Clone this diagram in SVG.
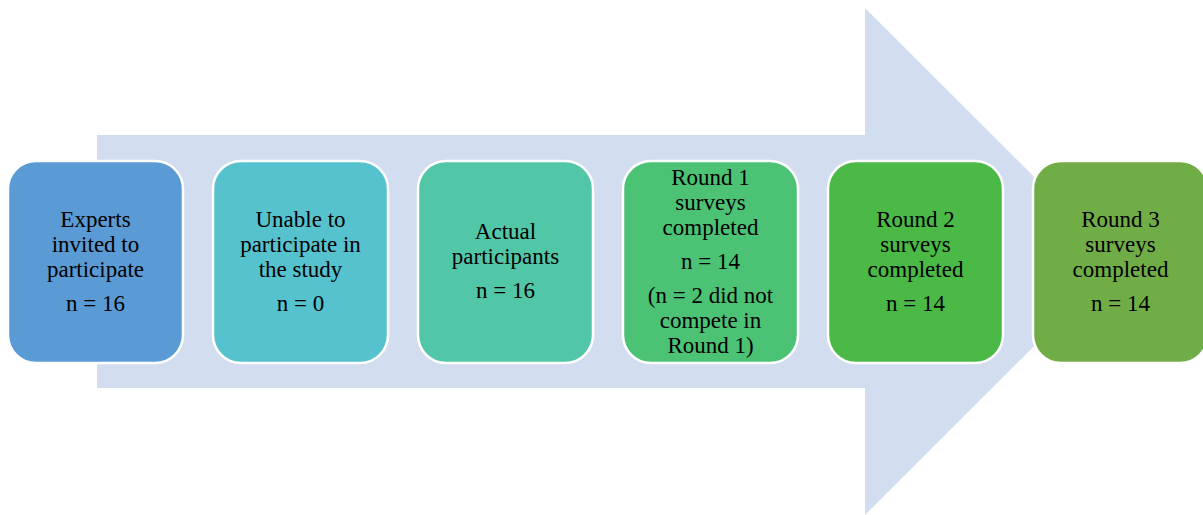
<svg xmlns="http://www.w3.org/2000/svg" width="1203" height="515" viewBox="0 0 1203 515">
  <style>
    .box { stroke: #ffffff; stroke-width: 2.5; }
    .lbl { font-family: "Liberation Serif", "Times New Roman", serif; font-size: 23px; fill: #000000; text-anchor: middle; }
  </style>
  <rect width="1203" height="515" fill="#ffffff"/>
  <!-- background process arrow -->
  <g id="connectors">
    <polygon points="97,135 865,135 865,8 1119,261.5 865,515 865,388 97,388" fill="#D2DEEF"/>
  </g>
  <g id="node1">
    <rect class="box" x="8" y="161" width="175" height="202" rx="28" fill="#5B9BD5"/>
    <text class="lbl" x="95.5" y="227">Experts</text>
    <text class="lbl" x="95.5" y="252">invited to</text>
    <text class="lbl" x="95.5" y="277">participate</text>
    <text class="lbl" x="95.5" y="311">n = 16</text>
  </g>
  <g id="node2">
    <rect class="box" x="213" y="161" width="175" height="202" rx="28" fill="#56C2CE"/>
    <text class="lbl" x="300.5" y="227">Unable to</text>
    <text class="lbl" x="300.5" y="252">participate in</text>
    <text class="lbl" x="300.5" y="277">the study</text>
    <text class="lbl" x="300.5" y="311">n = 0</text>
  </g>
  <g id="node3">
    <rect class="box" x="418" y="161" width="175" height="202" rx="28" fill="#52C7A8"/>
    <text class="lbl" x="505.5" y="239">Actual</text>
    <text class="lbl" x="505.5" y="264">participants</text>
    <text class="lbl" x="505.5" y="298">n = 16</text>
  </g>
  <g id="node4">
    <rect class="box" x="623" y="161" width="175" height="202" rx="28" fill="#4CC374"/>
    <text class="lbl" x="710.5" y="185">Round 1</text>
    <text class="lbl" x="710.5" y="210">surveys</text>
    <text class="lbl" x="710.5" y="235">completed</text>
    <text class="lbl" x="710.5" y="269">n = 14</text>
    <text class="lbl" x="710.5" y="303">(n = 2 did not</text>
    <text class="lbl" x="710.5" y="328">compete in</text>
    <text class="lbl" x="710.5" y="353">Round 1)</text>
  </g>
  <g id="node5">
    <rect class="box" x="828" y="161" width="175" height="202" rx="28" fill="#4BB946"/>
    <text class="lbl" x="915.5" y="227">Round 2</text>
    <text class="lbl" x="915.5" y="252">surveys</text>
    <text class="lbl" x="915.5" y="277">completed</text>
    <text class="lbl" x="915.5" y="311">n = 14</text>
  </g>
  <g id="node6">
    <rect class="box" x="1033" y="161" width="175" height="202" rx="28" fill="#70AD47"/>
    <text class="lbl" x="1120.5" y="227">Round 3</text>
    <text class="lbl" x="1120.5" y="252">surveys</text>
    <text class="lbl" x="1120.5" y="277">completed</text>
    <text class="lbl" x="1120.5" y="311">n = 14</text>
  </g>
</svg>
